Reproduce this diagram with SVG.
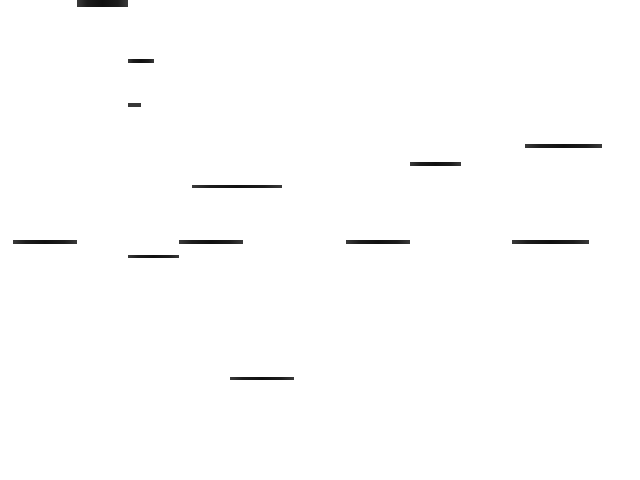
<svg xmlns="http://www.w3.org/2000/svg" width="640" height="480" viewBox="0 0 640 480">
<defs>
<linearGradient id="barFill" x1="0" y1="0" x2="1" y2="0">
<stop offset="0" stop-color="#3a3a3a"/>
<stop offset="0.2" stop-color="#1c1c1c"/>
<stop offset="0.5" stop-color="#101010"/>
<stop offset="0.8" stop-color="#1c1c1c"/>
<stop offset="1" stop-color="#3a3a3a"/>
</linearGradient>
</defs>
<style>
.bar{fill:url(#barFill)}
</style>
<rect x="0" y="0" width="640" height="480" fill="#ffffff"/>
<rect class="bar" x="77" y="0" width="51" height="7"/>
<rect class="bar" x="128" y="59" width="26" height="4"/>
<rect x="128" y="103" width="13" height="4" fill="#383838"/>
<rect class="bar" x="525" y="144" width="77" height="4"/>
<rect class="bar" x="410" y="162" width="51" height="4"/>
<rect class="bar" x="192" y="185" width="90" height="3"/>
<rect class="bar" x="13" y="240" width="64" height="4"/>
<rect class="bar" x="179" y="240" width="64" height="4"/>
<rect class="bar" x="346" y="240" width="64" height="4"/>
<rect class="bar" x="512" y="240" width="77" height="4"/>
<rect class="bar" x="128" y="255" width="51" height="3"/>
<rect class="bar" x="230" y="377" width="64" height="3"/>
</svg>
